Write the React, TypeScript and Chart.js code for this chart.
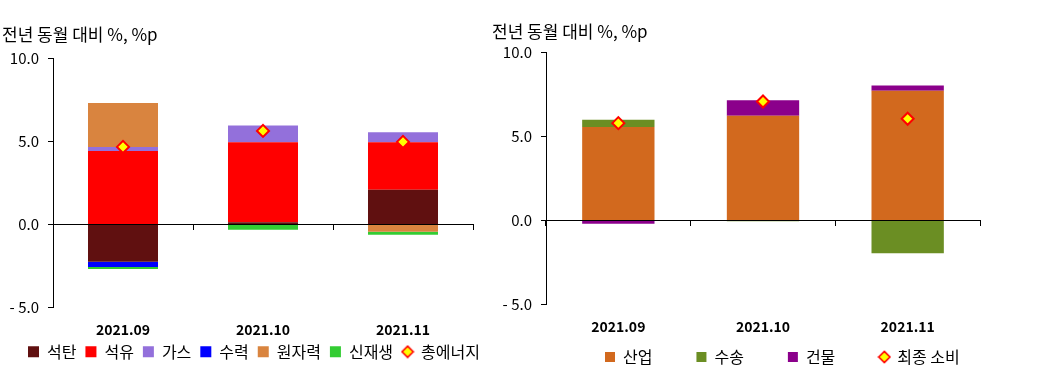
import React, { useEffect, useRef } from 'react';
import { Chart, registerables } from 'chart.js';

Chart.register(...registerables);

const FONT = '"Noto Sans CJK KR", "Noto Sans", sans-serif';

// ---------- shared ----------
const categories = ['2021.09', '2021.10', '2021.11'];
const titleText = '전년 동월 대비 %, %p';
const yMin = -5;
const yMax = 10;
const yStep = 5;

// ---------- left chart: by energy source ----------
const energyLabels = ['석탄', '석유', '가스', '수력', '원자력', '신재생'];
const coal = [-2.24, 0.14, 2.08];
const oil = [4.42, 4.8, 2.86];
const gas = [0.24, 1.0, 0.6];
const hydro = [-0.32, 0, 0];
const nuclear = [2.64, 0, -0.44];
const renewables = [-0.12, -0.32, -0.18];
const totalEnergyLabel = '총에너지';
const totalEnergy = [4.66, 5.62, 4.96];
const energyColors = ['#601010', '#FF0000', '#9370DB', '#0000FF', '#D9843F', '#33CC33'];

// ---------- right chart: by sector ----------
const sectorLabels = ['산업', '수송', '건물'];
const industry = [5.57, 6.24, 7.73];
const transport = [0.44, -0.05, -1.95];
const building = [-0.2, 0.93, 0.32];
const finalLabel = '최종 소비';
const finalConsumption = [5.8, 7.09, 6.06];
const sectorColors = ['#D2691E', '#6B8E23', '#8B008B'];

interface Layout {
  padLeft: number;
  padRight: number;
  yWidth: number;
  titleTop: number;
  titleBottom: number;
  xHeight: number;
  legendHeight: number;
  legendLeft: number;
  legendTop: number;
  legendPad: number;
  boxSize: number;
}

function makeDiamond(): HTMLCanvasElement {
  const c = document.createElement('canvas');
  c.width = 14;
  c.height = 14;
  const g = c.getContext('2d')!;
  g.beginPath();
  g.moveTo(7, 1.4);
  g.lineTo(12.6, 7);
  g.lineTo(7, 12.6);
  g.lineTo(1.4, 7);
  g.closePath();
  g.fillStyle = '#FFFF00';
  g.fill();
  g.lineWidth = 1.6;
  g.strokeStyle = '#FF0000';
  g.stroke();
  return c;
}

function fmt(v: number): string {
  return v < 0 ? '- ' + Math.abs(v).toFixed(1) : v.toFixed(1);
}

function buildChart(
  canvas: HTMLCanvasElement,
  barLabels: string[],
  barData: number[][],
  barColors: string[],
  lineLabel: string,
  lineData: number[],
  L: Layout
) {
  const diamond = makeDiamond();
  const datasets: any[] = barLabels.map((lab, i) => ({
    type: 'bar',
    label: lab,
    data: barData[i],
    backgroundColor: barColors[i],
    borderWidth: 0,
    stack: 'parts',
    xAxisID: 'x',
    yAxisID: 'y',
    order: 1,
    barPercentage: 0.5,
    categoryPercentage: 1,
  }));
  datasets.push({
    type: 'line',
    label: lineLabel,
    data: lineData,
    showLine: false,
    pointStyle: 'rectRot',
    pointRadius: 6,
    pointHoverRadius: 6,
    pointBackgroundColor: '#FFFF00',
    pointBorderColor: '#FF0000',
    pointBorderWidth: 2,
    stack: 'total',
    xAxisID: 'x',
    yAxisID: 'y',
    order: 0,
  });

  const placeLegend = {
    id: 'placeLegend',
    beforeLayout(chart: any) {
      const lg = chart.legend;
      if (lg && !lg._patched) {
        const orig = lg.fit.bind(lg);
        lg.fit = () => {
          lg.maxWidth = 2000;
          orig();
          lg.height = L.legendHeight;
        };
        lg._patched = true;
      }
    },
    afterLayout(chart: any) {
      const lg = chart.legend;
      if (!lg) return;
      const w = lg.width;
      lg.left = L.legendLeft;
      lg.right = L.legendLeft + w;
      lg.top = L.legendTop;
      lg.bottom = chart.height;
      lg.height = chart.height - L.legendTop;
    },
  };

  return new Chart(canvas, {
    type: 'bar',
    data: { labels: categories, datasets },
    options: {
      responsive: false,
      animation: false,
      devicePixelRatio: 1,
      layout: { padding: { left: L.padLeft, right: L.padRight, top: 0, bottom: 0 } },
      font: { family: FONT },
      scales: {
        x: {
          type: 'category',
          stacked: true,
          offset: true,
          grid: { display: false, drawTicks: false },
          border: { display: false },
          ticks: { padding: 14, color: '#000', font: { family: FONT, size: 14, weight: 'bold' } },
          afterFit: (s: any) => {
            s.height = L.xHeight;
          },
        },
        x2: {
          type: 'category',
          labels: categories,
          position: { y: 0 },
          offset: true,
          grid: {
            display: true,
            drawOnChartArea: false,
            drawTicks: true,
            tickLength: 5,
            offset: true,
            color: '#000',
            lineWidth: 1,
          },
          border: { display: true, color: '#000', width: 1 },
          ticks: { display: false },
        },
        y: {
          type: 'linear',
          stacked: true,
          min: yMin,
          max: yMax,
          grid: {
            display: true,
            drawOnChartArea: false,
            drawTicks: true,
            tickLength: 5,
            color: '#000',
          },
          border: { display: true, color: '#000', width: 1 },
          ticks: {
            stepSize: yStep,
            padding: 9,
            color: '#000',
            font: { family: FONT, size: 15 },
            callback: (v: any) => fmt(Number(v)),
          },
          afterFit: (s: any) => {
            s.width = L.yWidth;
          },
        },
      } as any,
      plugins: {
        title: {
          display: true,
          text: titleText,
          align: 'start',
          color: '#000',
          font: { family: FONT, size: 17, weight: 'normal' },
          padding: { top: L.titleTop, bottom: L.titleBottom },
        },
        legend: {
          display: true,
          position: 'bottom',
          align: 'start',
          labels: {
            usePointStyle: true,
            pointStyle: 'rect',
            boxWidth: L.boxSize,
            boxHeight: L.boxSize,
            padding: L.legendPad,
            color: '#000',
            font: { family: FONT, size: 16 },
            sort: (a: any, b: any) => a.datasetIndex - b.datasetIndex,
            generateLabels: (chart: any) => {
              const items = (Chart.defaults.plugins.legend.labels as any).generateLabels(chart);
              items.forEach((it: any) => {
                const ds = chart.data.datasets[it.datasetIndex];
                if (ds.type === 'line') {
                  it.pointStyle = diamond;
                } else {
                  it.pointStyle = 'rect';
                  it.lineWidth = 0;
                }
              });
              return items;
            },
          },
        },
        tooltip: { enabled: false },
      },
    } as any,
    plugins: [placeLegend as any],
  });
}

function EnergyChart() {
  const ref = useRef<HTMLCanvasElement>(null);
  useEffect(() => {
    if (!ref.current) return;
    const chart = buildChart(
      ref.current,
      energyLabels,
      [coal, oil, gas, hydro, nuclear, renewables],
      energyColors,
      totalEnergyLabel,
      totalEnergy,
      {
        padLeft: 2,
        padRight: 47,
        yWidth: 51,
        titleTop: 24.8,
        titleBottom: 12.8,
        xHeight: 28,
        legendHeight: 45.3,
        legendLeft: 19,
        legendTop: 334.7,
        legendPad: 9,
        boxSize: 11,
      }
    );
    return () => chart.destroy();
  }, []);
  return <canvas ref={ref} width={520} height={381} style={{ width: 520, height: 381, display: 'block' }} />;
}

function SectorChart() {
  const ref = useRef<HTMLCanvasElement>(null);
  useEffect(() => {
    if (!ref.current) return;
    const chart = buildChart(
      ref.current,
      sectorLabels,
      [industry, transport, building],
      sectorColors,
      finalLabel,
      finalConsumption,
      {
        padLeft: 12,
        padRight: 60,
        yWidth: 54,
        titleTop: 21.5,
        titleBottom: 10.8,
        xHeight: 28,
        legendHeight: 48.7,
        legendLeft: 81,
        legendTop: 305,
        legendPad: 44,
        boxSize: 10,
      }
    );
    return () => chart.destroy();
  }, []);
  return <canvas ref={ref} width={560} height={381} style={{ width: 560, height: 381, display: 'block' }} />;
}

export default function App() {
  return (
    <div>
      <div style={{ position: 'absolute', left: 0, top: 0, width: 520, height: 381 }}>
        <EnergyChart />
      </div>
      <div style={{ position: 'absolute', left: 480, top: 0, width: 560, height: 381 }}>
        <SectorChart />
      </div>
    </div>
  );
}
